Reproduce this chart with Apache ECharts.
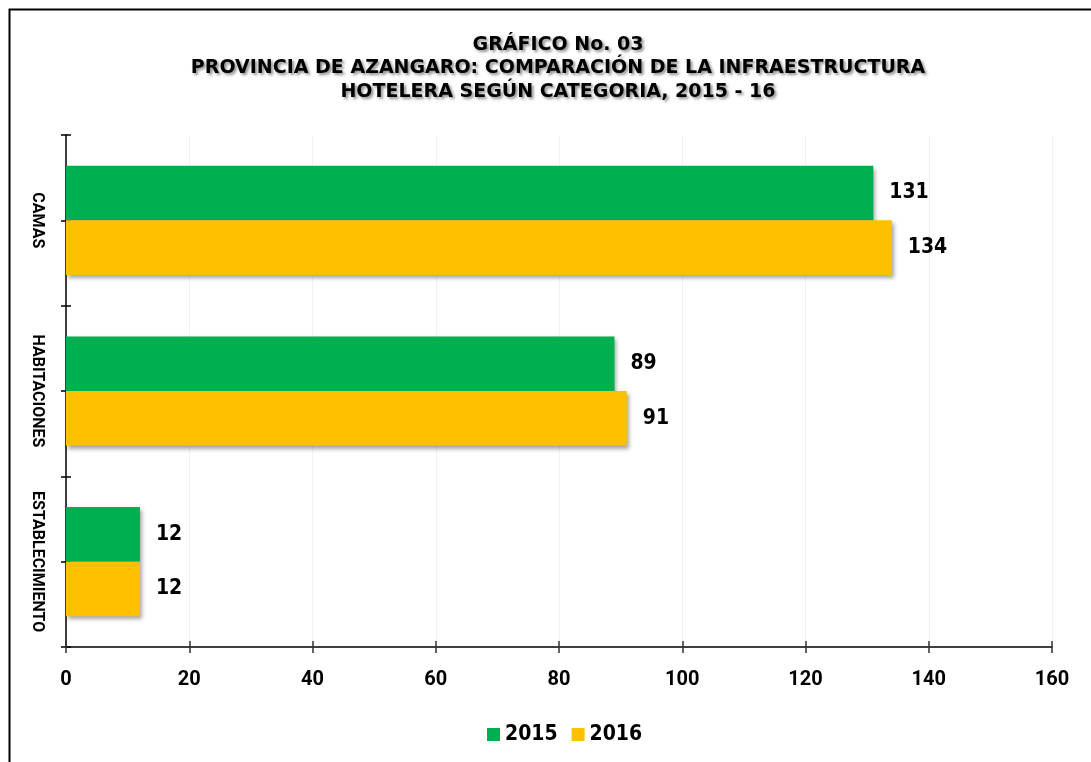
<!DOCTYPE html>
<html>
<head>
<meta charset="utf-8">
<style>
  html, body { margin: 0; padding: 0; background: #fff; }
  #chart { width: 1091px; height: 762px; }
</style>
<script src="https://cdn.jsdelivr.net/npm/echarts@6/dist/echarts.min.js"></script>
</head>
<body>
<div id="chart"></div>
<script>
var categories = ['CAMAS', 'HABITACIONES', 'ESTABLECIMIENTO'];
var years = ['2015', '2016'];
var values2015 = [131, 89, 12];
var values2016 = [134, 91, 12];
var xTicks = [0, 160, 20]; // min, max, interval

var narrow = '"DejaVu Sans Condensed", "Liberation Sans Narrow", "Liberation Sans", sans-serif';
var grid = { left: 66, right: 39, top: 135, bottom: 115 };

var chart = echarts.init(document.getElementById('chart'));

function barSeries (name, data, color) {
  return {
    name: name,
    type: 'bar',
    data: data,
    barGap: '0%',
    barCategoryGap: '36%',
    itemStyle: {
      color: color,
      shadowColor: 'rgba(0,0,0,0.35)',
      shadowBlur: 4,
      shadowOffsetX: 2,
      shadowOffsetY: 3
    },
    label: {
      show: true,
      position: 'right',
      distance: 16,
      color: '#000',
      fontFamily: narrow,
      fontWeight: 'bold',
      fontSize: 21
    }
  };
}

var option = {
  backgroundColor: '#fff',
  animation: false,
  title: {
    text: 'GRÁFICO No. 03\nPROVINCIA DE AZANGARO: COMPARACIÓN DE LA INFRAESTRUCTURA\nHOTELERA SEGÚN CATEGORIA, 2015 - 16',
    left: 553,
    top: 28,
    textAlign: 'center',
    textStyle: {
      fontFamily: '"DejaVu Sans", sans-serif',
      fontWeight: 'bold',
      fontSize: 19,
      lineHeight: 23.5,
      color: '#000',
      textShadowColor: 'rgba(0,0,0,0.45)',
      textShadowBlur: 3,
      textShadowOffsetX: 2,
      textShadowOffsetY: 2
    }
  },
  legend: {
    data: years,
    left: 482,
    top: 719,
    itemWidth: 13,
    itemHeight: 13,
    itemGap: 14,
    icon: 'rect',
    textStyle: {
      fontFamily: narrow,
      fontWeight: 'bold',
      fontSize: 21,
      color: '#000'
    }
  },
  graphic: [{
    type: 'rect',
    shape: { x: 9.5, y: 9.5, width: 1200, height: 900 },
    style: { fill: 'none', stroke: '#000', lineWidth: 2 },
    silent: true
  }],
  grid: grid,
  xAxis: [{
    type: 'value',
    min: xTicks[0],
    max: xTicks[1],
    interval: xTicks[2],
    axisLine: { show: true, lineStyle: { color: '#000', width: 1.5 } },
    axisTick: { show: true, length: 6, lineStyle: { color: '#333', width: 1.5 } },
    splitLine: { show: true, lineStyle: { color: '#f2f2f2', width: 1 } },
    axisLabel: {
      margin: 23,
      color: '#000',
      fontFamily: 'Roboto, sans-serif',
      fontWeight: 'bold',
      fontSize: 20
    }
  }, {
    type: 'value',
    position: 'bottom',
    min: xTicks[0],
    max: xTicks[1],
    interval: xTicks[2],
    axisLine: { show: false },
    axisTick: { show: true, inside: true, length: 6, lineStyle: { color: '#333', width: 1.5 } },
    splitLine: { show: false },
    axisLabel: { show: false }
  }],
  yAxis: [{
    type: 'category',
    data: categories,
    inverse: true,
    axisLine: { show: true, lineStyle: { color: '#000', width: 1.5 } },
    axisTick: { show: false },
    axisLabel: {
      interval: 0,
      rotate: -90,
      margin: 21,
      color: '#000',
      fontFamily: 'Roboto, sans-serif',
      fontWeight: 'bold',
      fontSize: 16
    }
  }, {
    type: 'value',
    position: 'left',
    min: 0,
    max: categories.length * 2,
    interval: 1,
    axisLine: { show: false },
    axisTick: { show: true, length: 5, lineStyle: { color: '#000', width: 1.5 } },
    splitLine: { show: false },
    axisLabel: { show: false }
  }, {
    type: 'value',
    position: 'left',
    min: 0,
    max: categories.length * 2,
    interval: 1,
    axisLine: { show: false },
    axisTick: { show: true, inside: true, length: 5, lineStyle: { color: '#000', width: 1.5 } },
    splitLine: { show: false },
    axisLabel: { show: false }
  }],
  series: [
    barSeries(years[0], values2015, '#00B050'),
    barSeries(years[1], values2016, '#FFC000')
  ]
};

chart.setOption(option);
</script>
</body>
</html>
